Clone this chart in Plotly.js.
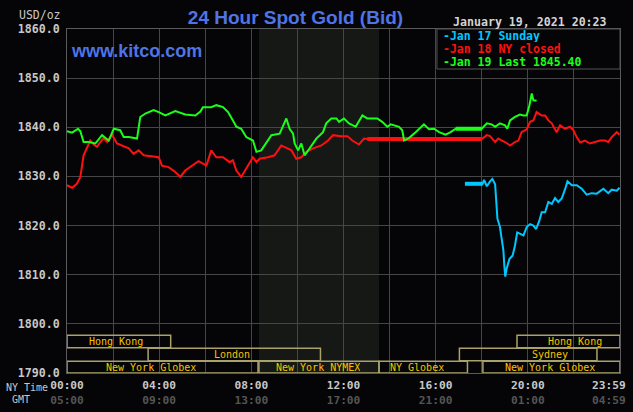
<!DOCTYPE html>
<html>
<head>
<meta charset="utf-8">
<script src="https://cdn.plot.ly/plotly-3.0.1.min.js"></script>
<style>
html,body{margin:0;padding:0;background:#050507;}
#chart{width:633px;height:412px;}
</style>
</head>
<body>
<div id="chart"></div>
<script>
// ---- data (x in hours NY time) ----
const seriesNames = ['Jan 17 Sunday', 'Jan 18 NY closed', 'Jan 19 Last 1845.40'];

const greenHours = [0, 0.22, 0.48, 0.58, 0.72, 0.94, 1.23, 1.52, 1.81, 2.03, 2.31, 2.46, 2.68, 3.04, 3.18, 3.40, 3.76, 3.98, 4.27, 4.70,
  5.13, 5.57, 5.79, 5.90, 6.26, 6.48, 6.77, 6.99, 7.20, 7.35, 7.56, 7.78, 8.07, 8.22, 8.43, 8.58, 8.87, 9.23, 9.37, 9.52,
  9.66, 9.81, 9.88, 10.03, 10.17, 10.31, 10.53, 10.82, 11.11, 11.25, 11.47, 11.69, 11.81, 12.02, 12.24, 12.53, 12.82, 13.03, 13.47, 13.68,
  13.90, 14.05, 14.41, 14.55, 14.63, 14.84, 15.13, 15.49, 15.71, 15.93, 16.15, 16.43, 16.65, 16.87, 18.00, 18.22, 18.43, 18.58, 18.79, 19.01,
  19.11, 19.23, 19.44, 19.66, 19.81, 19.95, 20.07, 20.17, 20.24, 20.34, 20.38];
const greenValues = [1839.2, 1838.9, 1839.7, 1839.2, 1837.0, 1837.0, 1836.7, 1838.4, 1837.3, 1839.7, 1839.4, 1838.0, 1838.0, 1837.7, 1842.1, 1842.8, 1843.5, 1843.1, 1842.4, 1843.3,
  1842.6, 1842.4, 1843.2, 1844.1, 1844.1, 1844.5, 1844.1, 1843.1, 1841.4, 1840.1, 1839.7, 1838.0, 1837.3, 1835.0, 1835.3, 1836.3, 1838.4, 1838.7, 1840.1, 1841.8,
  1839.7, 1838.7, 1836.7, 1835.3, 1836.7, 1834.3, 1835.7, 1837.7, 1839.0, 1840.8, 1841.8, 1841.8, 1841.1, 1841.8, 1840.8, 1840.1, 1842.4, 1841.8, 1841.8, 1841.1,
  1840.1, 1840.6, 1840.1, 1839.4, 1837.3, 1837.8, 1839.0, 1840.6, 1839.6, 1839.7, 1839.0, 1838.5, 1839.0, 1839.7, 1839.7, 1840.8, 1840.6, 1840.1, 1840.8, 1840.4,
  1839.7, 1841.4, 1842.1, 1842.6, 1842.4, 1842.4, 1844.5, 1846.9, 1845.5, 1845.5, 1845.4];
const greenFlatHours = [16.87, 18.00];
const greenFlatValues = [1839.7, 1839.7];

const redHours = [0, 0.22, 0.43, 0.58, 0.72, 0.87, 1.01, 1.16, 1.30, 1.45, 1.59, 1.74, 1.95, 2.17, 2.39, 2.68, 2.89, 3.11, 3.33, 3.62,
  3.98, 4.12, 4.41, 4.70, 4.92, 5.13, 5.42, 5.71, 6.05, 6.26, 6.48, 6.77, 7.06, 7.20, 7.35, 7.56, 7.78, 8.07, 8.22, 8.36,
  8.72, 9.01, 9.30, 9.52, 9.74, 9.95, 10.17, 10.39, 10.68, 11.04, 11.33, 11.55, 11.88, 12.17, 12.38, 12.67, 12.89, 13.03, 18.00, 18.22,
  18.36, 18.58, 18.72, 18.87, 19.01, 19.23, 19.44, 19.59, 19.73, 19.95, 20.10, 20.24, 20.38, 20.60, 20.75, 20.89, 21.04, 21.25, 21.40, 21.61,
  21.83, 21.98, 22.12, 22.27, 22.48, 22.70, 22.92, 23.13, 23.35, 23.49, 23.64, 23.86, 23.98];
const redValues = [1828.2, 1827.7, 1828.5, 1829.9, 1834.3, 1835.7, 1837.3, 1836.5, 1836.0, 1837.0, 1837.8, 1837.0, 1838.5, 1836.7, 1836.3, 1835.7, 1834.6, 1835.3, 1834.3, 1834.1,
  1833.9, 1832.2, 1831.9, 1830.9, 1829.9, 1831.2, 1832.2, 1833.1, 1832.2, 1835.3, 1833.9, 1833.9, 1832.9, 1833.3, 1831.2, 1829.9, 1831.6, 1833.9, 1832.9, 1833.6,
  1833.9, 1834.3, 1836.3, 1835.8, 1835.3, 1833.6, 1833.9, 1835.0, 1835.7, 1836.3, 1837.3, 1838.4, 1838.2, 1838.2, 1837.3, 1836.5, 1837.7, 1837.6, 1837.6, 1838.4,
  1838.2, 1837.0, 1837.7, 1837.3, 1837.0, 1836.3, 1837.0, 1837.3, 1839.0, 1839.6, 1841.1, 1841.4, 1843.1, 1842.4, 1842.4, 1841.4, 1840.8, 1839.0, 1840.4, 1839.7,
  1840.1, 1839.4, 1838.0, 1836.9, 1837.3, 1836.7, 1837.0, 1837.3, 1837.3, 1837.0, 1838.0, 1839.0, 1838.5];
const redFlatHours = [13.03, 18.00];
const redFlatValues = [1837.6, 1837.6];

const blueHours = [17.27, 18.04, 18.10, 18.22, 18.36, 18.46, 18.58, 18.62, 18.68, 18.79, 18.87, 18.94, 18.98, 19.02, 19.08, 19.20, 19.34, 19.44, 19.54, 19.66,
  19.81, 19.95, 20.10, 20.24, 20.36, 20.50, 20.60, 20.75, 20.89, 21.04, 21.18, 21.32, 21.47, 21.61, 21.72, 21.91, 22.12, 22.34, 22.55, 22.77,
  22.99, 23.28, 23.49, 23.64, 23.86, 23.98];
const blueValues = [1828.5, 1828.5, 1829.3, 1828.0, 1829.0, 1829.5, 1828.4, 1825.1, 1821.4, 1819.7, 1817.3, 1814.9, 1811.8, 1809.6, 1811.2, 1813.2, 1813.9, 1815.9, 1818.6, 1818.3,
  1818.0, 1819.7, 1820.3, 1820.0, 1819.3, 1821.0, 1822.7, 1822.7, 1824.8, 1824.4, 1825.6, 1824.8, 1825.5, 1827.3, 1829.0, 1828.2, 1828.2, 1827.5, 1826.3, 1826.6,
  1826.5, 1827.5, 1826.6, 1827.3, 1827.1, 1827.7];
const blueFlatHours = [17.27, 18.04];
const blueFlatValues = [1828.5, 1828.5];

// tick labels
const xTickHours = [0, 4, 8, 12, 16, 20, 23.52];
const nyTimeLabels = ['00:00', '04:00', '08:00', '12:00', '16:00', '20:00', '23:59'];
const gmtLabels = ['05:00', '09:00', '13:00', '17:00', '21:00', '01:00', '04:59'];

// trading sessions
const sessionNames = ['Hong Kong', 'Hong Kong', 'London', 'Sydney', 'New York Globex', 'New York NYMEX', 'NY Globex', 'New York Globex'];
const sessionStart = [0, 19.53, 3.52, 17.03, 0, 8.33, 13.54, 18.05];
const sessionEnd = [4.5, 24, 11.0, 23.0, 8.29, 13.54, 17.38, 24];
const sessionRow = [0, 0, 1, 1, 2, 2, 2, 2];
const sessionLabelAt = [2.14, 22.06, 7.17, 20.98, 3.66, 10.91, 15.2, 20.98];

// ---- style ----
const BG = '#050507';
const GRID = '#464646';
const BLUE_TXT = '#4f74e6';
const SESSION_LINE = '#aaa26a';
const SESSION_TXT = '#f5c400';
const MONO = 'DejaVu Sans Mono, monospace';
const rowTop = [1797.7, 1795.05, 1792.4];
const rowBot = [1795.15, 1792.5, 1790.0];
const colors = ['#00c8ff', '#ff1010', '#1aff1a'];

const traces = [
  {x: redHours, y: redValues, name: seriesNames[1], mode: 'lines', line: {color: colors[1], width: 2}},
  {x: redFlatHours, y: redFlatValues, name: seriesNames[1], mode: 'lines', line: {color: colors[1], width: 4}},
  {x: greenHours, y: greenValues, name: seriesNames[2], mode: 'lines', line: {color: colors[2], width: 2}},
  {x: greenFlatHours, y: greenFlatValues, name: seriesNames[2], mode: 'lines', line: {color: colors[2], width: 4}},
  {x: blueHours, y: blueValues, name: seriesNames[0], mode: 'lines', line: {color: colors[0], width: 2}},
  {x: blueFlatHours, y: blueFlatValues, name: seriesNames[0], mode: 'lines', line: {color: colors[0], width: 4}}
].map(t => Object.assign(t, {showlegend: false, hoverinfo: 'skip'}));

const shapes = [];
const annotations = [];

// NYMEX shading
const nymexIdx = sessionNames.indexOf('New York NYMEX');
shapes.push({type: 'rect', xref: 'x', yref: 'paper', x0: sessionStart[nymexIdx], x1: sessionEnd[nymexIdx], y0: 0, y1: 1,
  fillcolor: '#151815', line: {width: 0}, layer: 'below'});

// session boxes
sessionNames.forEach((n, i) => {
  const r = sessionRow[i];
  shapes.push({type: 'rect', xref: 'x', yref: 'y', x0: sessionStart[i], x1: sessionEnd[i], y0: rowBot[r], y1: rowTop[r],
    line: {color: SESSION_LINE, width: 1.5}, fillcolor: 'rgba(0,0,0,0)', layer: 'above'});
  annotations.push({xref: 'x', yref: 'y', x: sessionLabelAt[i], y: (rowTop[r] + rowBot[r]) / 2, text: n, showarrow: false,
    xanchor: 'center', yanchor: 'middle', borderpad: 0, height: 11,
    font: {family: MONO, size: 10, color: SESSION_TXT}});
});

// legend box
shapes.push({type: 'rect', xref: 'paper', yref: 'paper', x0: 0.669, x1: 1, y0: 0.8837, y1: 1,
  fillcolor: BG, line: {color: '#555', width: 1}, layer: 'above'});
const legendY = [0.9811, 0.9433, 0.9055];
seriesNames.forEach((n, i) => {
  annotations.push({xref: 'paper', yref: 'paper', x: 0.678, y: legendY[i], xanchor: 'left', yanchor: 'middle',
    text: '-' + n, showarrow: false, borderpad: 0, height: 12,
    font: {family: MONO, size: 11.5, color: colors[i], weight: 'bold'}});
});

// other texts
annotations.push({xref: 'paper', yref: 'paper', x: 0.980, y: 1.0203, xanchor: 'right', yanchor: 'middle',
  text: 'January 19, 2021 20:23', showarrow: false, font: {family: MONO, size: 11.6, color: '#d4d4d4', weight: 'bold'}});
annotations.push({xref: 'paper', yref: 'paper', x: -0.0072, y: 1.0407, xanchor: 'right', yanchor: 'middle',
  text: 'USD/oz', showarrow: false, font: {family: MONO, size: 11.5, color: '#c8c8c8'}});
annotations.push({xref: 'paper', yref: 'paper', x: 0.0036, y: 0.936, xanchor: 'left', yanchor: 'middle',
  text: 'www.kitco.com', showarrow: false, font: {family: 'Liberation Sans, Arial, sans-serif', size: 18, color: BLUE_TXT, weight: 'bold'}});
annotations.push({xref: 'paper', yref: 'paper', x: -0.114, y: -0.0407, xanchor: 'left', yanchor: 'middle',
  text: 'NY Time', showarrow: false, font: {family: MONO, size: 10, color: '#c8c8c8'}});
annotations.push({xref: 'paper', yref: 'paper', x: -0.103, y: -0.0756, xanchor: 'left', yanchor: 'middle',
  text: 'GMT', showarrow: false, font: {family: MONO, size: 10, color: '#c8c8c8'}});

const layout = {
  width: 633, height: 412,
  paper_bgcolor: BG, plot_bgcolor: BG,
  margin: {l: 67, r: 13, t: 29, b: 39},
  title: {text: '24 Hour Spot Gold (Bid)', x: 0.4668, xanchor: 'center', y: 0.9587, yanchor: 'middle',
    font: {family: 'Liberation Sans, Arial, sans-serif', size: 19, color: BLUE_TXT, weight: 'bold'}},
  showlegend: false,
  xaxis: {
    range: [0, 24], tickmode: 'array', tickvals: xTickHours,
    ticktext: nyTimeLabels.map((t, i) => t + '<br><span style="color:#555555">' + gmtLabels[i] + '</span>'),
    showgrid: false, zeroline: false, showline: true, mirror: true, linecolor: '#5a5a5a', linewidth: 1,
    ticks: '', ticklabelstandoff: 2,
    tickfont: {family: MONO, size: 11.2, color: '#c8c8c8', weight: 'bold'},
    minor: {tickmode: 'linear', tick0: 0, dtick: 2, showgrid: true, gridcolor: GRID, gridwidth: 1, ticks: ''}
  },
  yaxis: {
    range: [1790, 1860], tickmode: 'linear', tick0: 1790, dtick: 10, tickformat: '.1f',
    showgrid: true, gridcolor: GRID, gridwidth: 1, zeroline: false, showline: true, mirror: true, linecolor: '#5a5a5a',
    ticks: '', ticklabelstandoff: 4,
    tickfont: {family: MONO, size: 11.6, color: '#c8c8c8', weight: 'bold'}
  },
  shapes: shapes,
  annotations: annotations
};

Plotly.newPlot('chart', traces, layout, {staticPlot: true, displayModeBar: false});
</script>
</body>
</html>
